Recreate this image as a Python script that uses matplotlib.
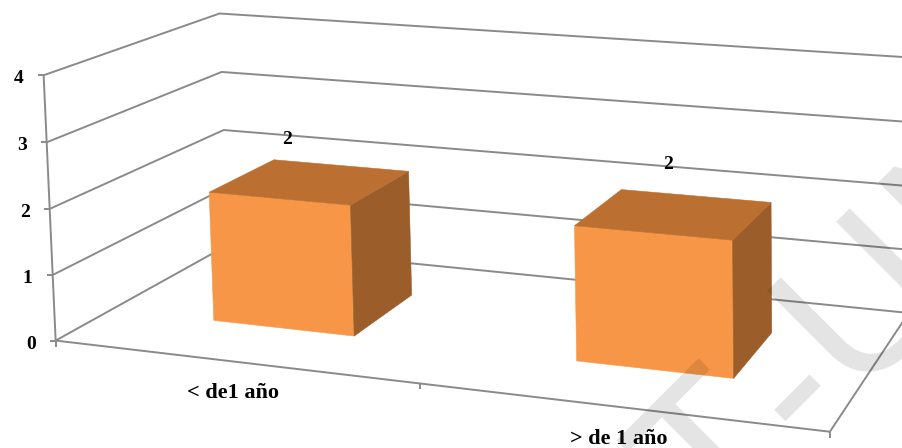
import numpy as np
import matplotlib
matplotlib.use("Agg")
import matplotlib.pyplot as plt
from matplotlib.patches import Polygon

# Chart data
categories = ["< de1 año", "> de 1 año"]
values = [2, 2]
value_ticks = [0, 1, 2, 3, 4]

# Bar layout in chart space (fractions of the floor width and depth)
bar_centers = [0.25, 0.75]
bar_half_width = 0.10
bar_depth = (0.30, 0.70)
label_nudges = [(-5, 7), (6, 2)]

FRONT, TOP, SIDE = "#F79646", "#BB6F31", "#9B5E2A"
GRID = "#8A8A8A"
SERIF = "Liberation Serif"

# Perspective camera for the 3D box: maps (category, value, depth) to canvas pixels
CAMERA = np.array([
    [6.82634514e+02, -3.16368035e+00, 2.06199389e+02, 5.56524996e+01],
    [4.35112298e+01, -6.66090833e+01, -5.88074484e+01, 3.40573784e+02],
    [-1.10366809e-01, -3.68034380e-03, 1.49792764e-01, 1.0],
])


def project(u, v, w):
    q = CAMERA @ np.array([u, v, w, 1.0])
    return q[:2] / q[2]


fig = plt.figure(figsize=(9.03, 4.48), dpi=100)
ax = fig.add_axes([0, 0, 1, 1])
ax.set_xlim(0, 903)
ax.set_ylim(448, 0)
ax.axis("off")


def line(points, lw=1.4, color=GRID, zorder=1):
    xy = np.array(points)
    ax.plot(xy[:, 0], xy[:, 1], color=color, lw=lw, zorder=zorder,
            solid_capstyle="butt", solid_joinstyle="miter")


# Walls: each gridline runs along the side wall, then along the back wall
for v in value_ticks:
    line([project(0, v, 0), project(0, v, 1), project(1, v, 1)])
    p = project(0, v, 0)
    line([p + (-6, 0), p])
    ax.text(p[0] - 20, p[1] + 3.5, str(v), ha="right", va="center",
            family=SERIF, weight="bold", fontsize=14, color="black", zorder=5)

# Value axis, floor front edge and floor right edge
line([project(0, 0, 0), project(0, value_ticks[-1], 0)])
line([project(0, 0, 0), project(1, 0, 0)])
line([project(1, 0, 0), project(1, 0, 1)])
for u in (0, 0.5, 1):
    p = project(u, 0, 0)
    line([p, p + (0, 6)])

# Bars
for c, val, name, nudge in zip(bar_centers, values, categories, label_nudges):
    u0, u1 = c - bar_half_width, c + bar_half_width
    w0, w1 = bar_depth
    faces = [
        ([(u0, 0, w0), (u1, 0, w0), (u1, val, w0), (u0, val, w0)], FRONT),
        ([(u1, 0, w0), (u1, 0, w1), (u1, val, w1), (u1, val, w0)], SIDE),
        ([(u0, val, w0), (u1, val, w0), (u1, val, w1), (u0, val, w1)], TOP),
    ]
    for corners, color in faces:
        ax.add_patch(Polygon([project(*k) for k in corners], closed=True,
                             facecolor=color, edgecolor=color, lw=0.4, zorder=3))
    lab = project(c, val + 0.9, 0.39) + nudge
    ax.text(lab[0], lab[1], str(val), ha="center", va="center",
            family=SERIF, weight="bold", fontsize=14, color="black", zorder=5)
    cat = project(c, 0, 0)
    ax.text(cat[0], cat[1] + 32, name, ha="center", va="center",
            family=SERIF, weight="bold", fontsize=16, color="black", zorder=5)

# Diagonal watermark across the lower right
for ch, x, y, ha in [("T", 757, 497, "center"), ("-", 834, 430, "center"),
                     ("U", 904, 339, "center"), ("N", 962, 283, "left")]:
    ax.text(x, y, ch, rotation=45, rotation_mode="anchor", ha=ha, va="baseline",
            family="Liberation Sans", fontsize=148, color="black", alpha=0.11,
            zorder=6, clip_on=True)

fig.savefig("out.png", dpi=100)
